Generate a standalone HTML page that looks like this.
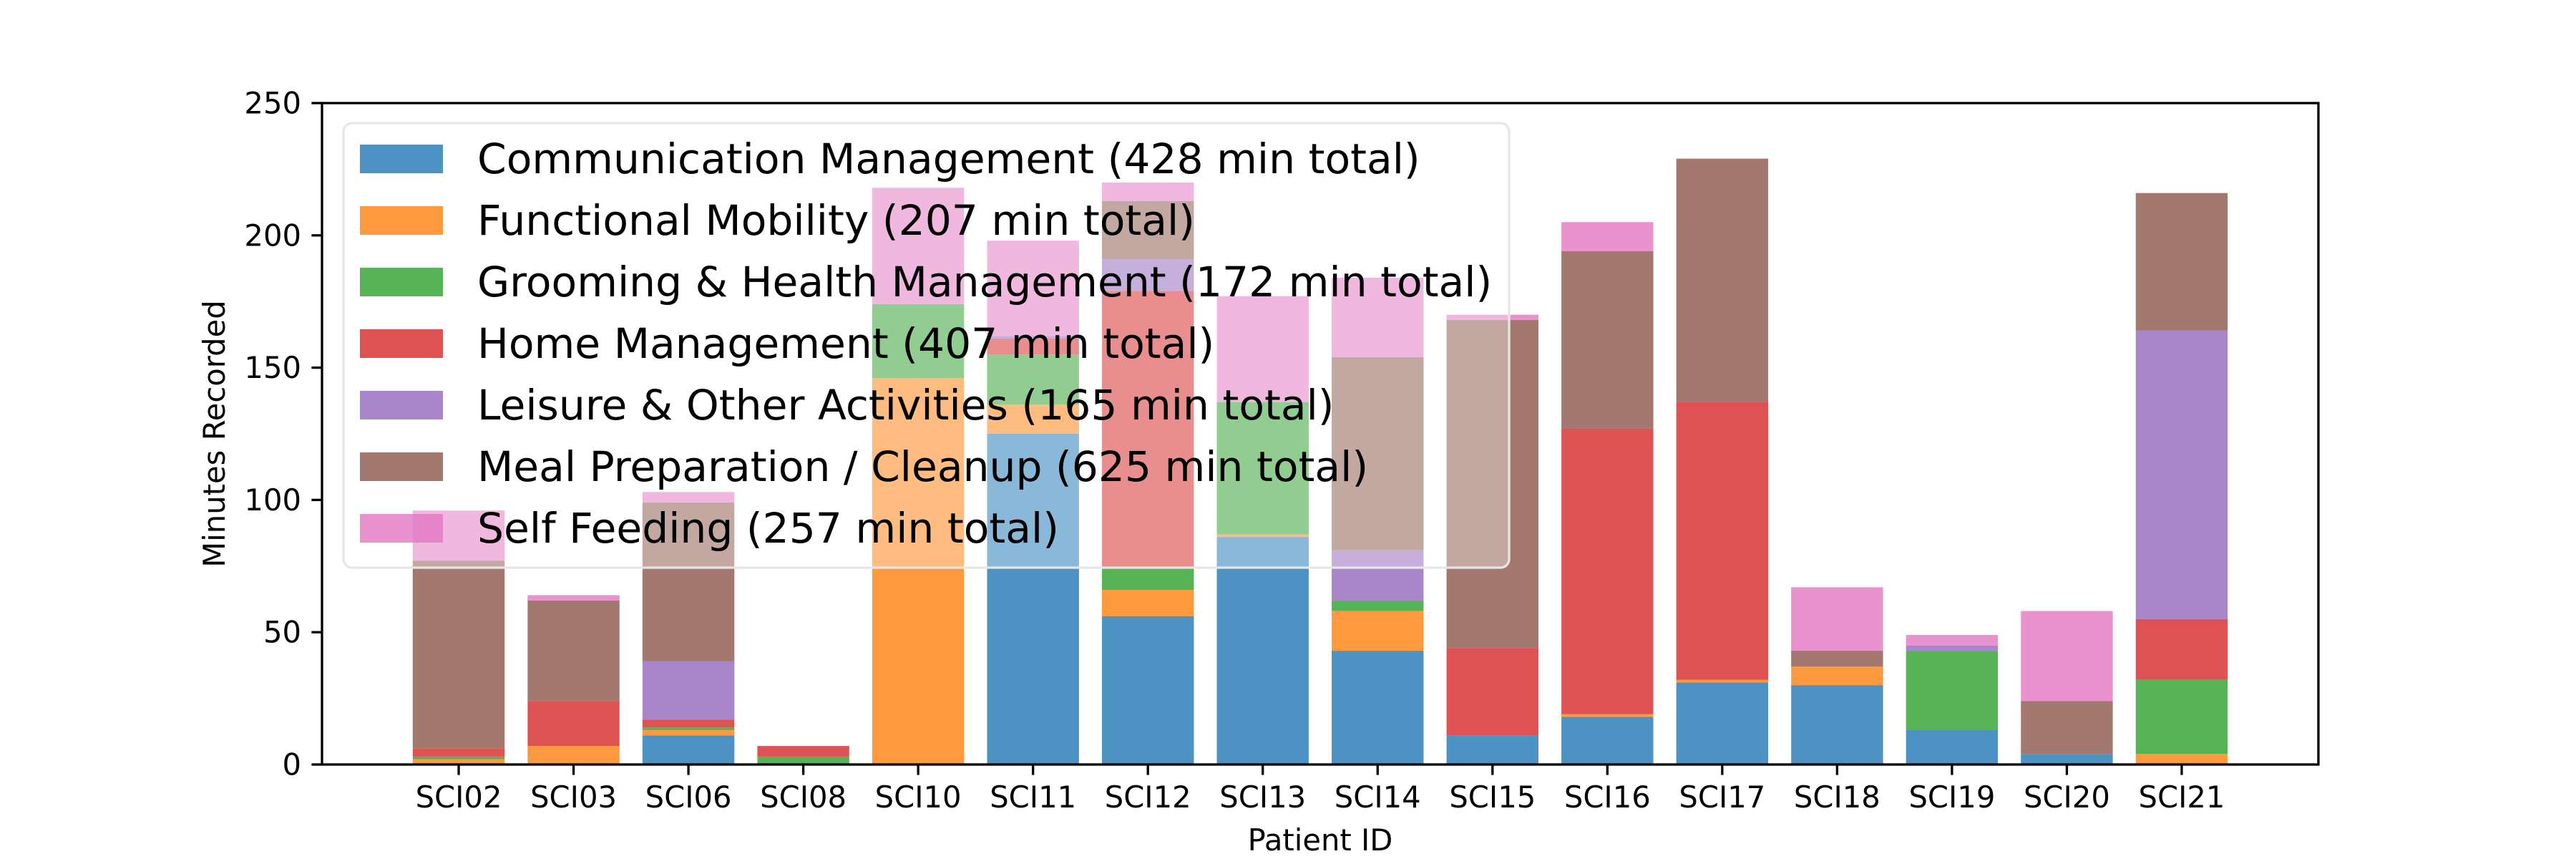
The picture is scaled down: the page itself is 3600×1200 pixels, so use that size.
<!DOCTYPE html>
<html><head><meta charset="utf-8"><style>
body{margin:0;background:#fff}
svg{display:block;font-family:"DejaVu Sans","Liberation Sans",sans-serif}
</style></head><body>
<svg id="chart" width="3600" height="1200" viewBox="0 0 3600 1200" xmlns="http://www.w3.org/2000/svg">
<rect width="3600" height="1200" fill="#fff"/>
<g id="bars"></g>
<g id="axes"></g>
<g id="legend"></g>
</svg>
<script>
const categories = ["SCI02","SCI03","SCI06","SCI08","SCI10","SCI11","SCI12","SCI13","SCI14","SCI15","SCI16","SCI17","SCI18","SCI19","SCI20","SCI21"];
const seriesNames = ["Communication Management","Functional Mobility","Grooming & Health Management","Home Management","Leisure & Other Activities","Meal Preparation / Cleanup","Self Feeding"];
const commMgmt   = [0,0,11,0,0,125,56,86,43,11,18,31,30,13,4,0];
const funcMob    = [2,7,2,0,146,11,10,1,15,0,1,1,7,0,0,4];
const grooming   = [1,0,1,3,28,19,8,50,4,0,0,0,0,30,0,28];
const homeMgmt   = [3,17,3,4,0,6,105,0,0,33,108,105,0,0,0,23];
const leisure    = [0,0,22,0,0,1,12,0,19,0,0,0,0,2,0,109];
const mealPrep   = [71,38,60,0,0,0,22,0,73,124,67,92,6,0,20,52];
const selfFeed   = [19,2,4,0,44,36,7,40,30,2,11,0,24,4,34,0];
const yTicks = [0,50,100,150,200,250];
const colors = ["#1f77b4","#ff7f0e","#2ca02c","#d62728","#9467bd","#8c564b","#e377c2"];
const series = [commMgmt,funcMob,grooming,homeMgmt,leisure,mealPrep,selfFeed];

const NS="http://www.w3.org/2000/svg";
const L=450,R=3240,T=144,B=1068;
const xmin=-1.19,xmax=categories.length-1+1.19;
const ymax=250;
const xs=v=>L+(v-xmin)/(xmax-xmin)*(R-L);
const ys=v=>B-v/ymax*(B-T);
function mk(tag,attrs,parent){const e=document.createElementNS(NS,tag);for(const k in attrs)e.setAttribute(k,attrs[k]);parent.appendChild(e);return e;}

const gb=document.getElementById('bars');
const bw=0.8;
categories.forEach((c,i)=>{
  let base=0;
  series.forEach((s,j)=>{
    const v=s[i];
    if(v>0){
      const r=mk('rect',{x:xs(i-bw/2),y:ys(base+v),width:xs(i+bw/2)-xs(i-bw/2),height:ys(base)-ys(base+v),fill:colors[j],'fill-opacity':0.8},gb);
      
      
    }
    base+=v;
  });
});

const ga=document.getElementById('axes');
const frame=mk('rect',{x:L,y:T,width:R-L,height:B-T,fill:'none',stroke:'#000','stroke-width':3.3},ga);


yTicks.forEach(t=>{
  const tl=mk('line',{x1:L,x2:L-14.6,y1:ys(t),y2:ys(t),stroke:'#000','stroke-width':3.3},ga);
  
  
  const tx=mk('text',{x:L-29,y:ys(t),'text-anchor':'end','dominant-baseline':'central','font-size':41.7,fill:'#000'},ga);
  tx.textContent=t;
  
  
});
categories.forEach((c,i)=>{
  const tl=mk('line',{x1:xs(i),x2:xs(i),y1:B,y2:B+14.6,stroke:'#000','stroke-width':3.3},ga);
  
  
  const tx=mk('text',{x:xs(i),y:B+29,'text-anchor':'middle','dominant-baseline':'hanging','font-size':41.7,fill:'#000'},ga);
  tx.textContent=c;
  
  
});
const xl=mk('text',{x:(L+R)/2,y:1188,'text-anchor':'middle','font-size':41.7,fill:'#000'},ga);
xl.textContent='Patient ID';


const yl=mk('text',{x:0,y:0,'text-anchor':'middle','font-size':41.7,fill:'#000',transform:'translate(314,'+((T+B)/2)+') rotate(-90)'},ga);
yl.textContent='Minutes Recorded';



const gl=document.getElementById('legend');
const lb=mk('rect',{x:480,y:172,width:1629,height:621,rx:12,fill:'#fff','fill-opacity':0.35,stroke:'#e6e6e6','stroke-width':3.3},gl);


seriesNames.forEach((n,j)=>{
  const cy=222+j*86;
  const h=mk('rect',{x:503,y:cy-20,width:116,height:40,fill:colors[j],'fill-opacity':0.8},gl);
  
  
  const total=series[j].reduce((a,b)=>a+b,0);
  const t=mk('text',{x:667,y:cy,'dominant-baseline':'central','font-size':58.3,fill:'#000'},gl);
  t.textContent=n+' ('+total+' min total)';
  
  
});
</script>
</body></html>
